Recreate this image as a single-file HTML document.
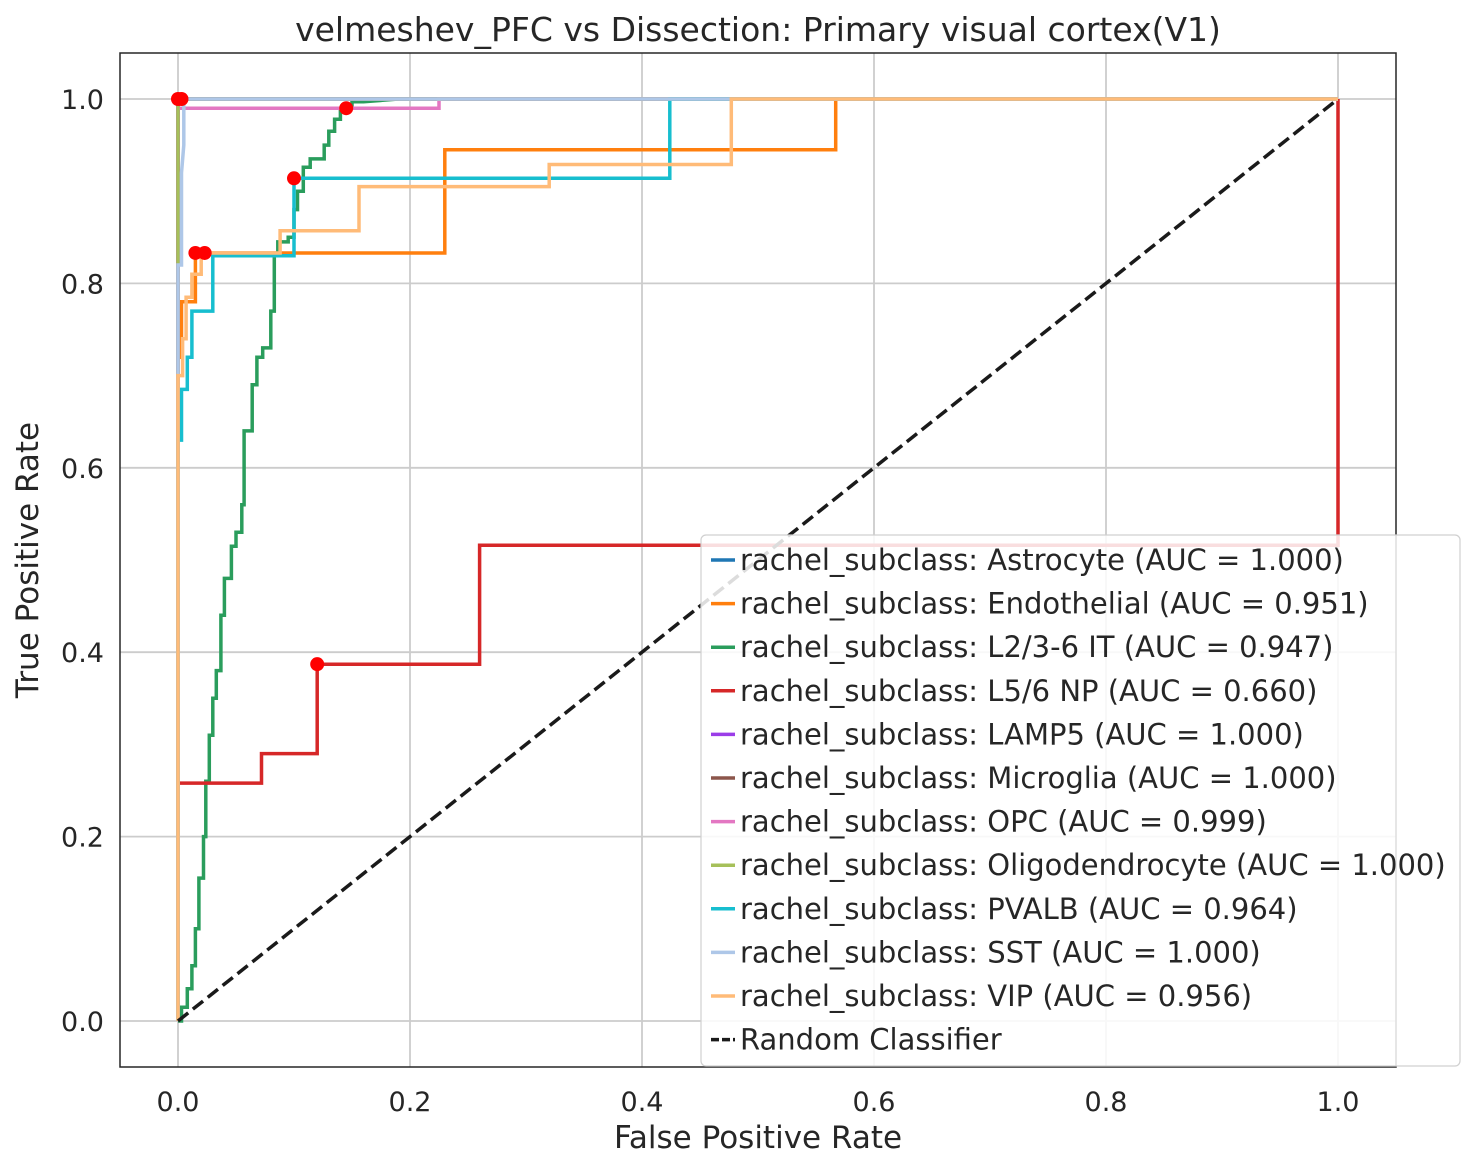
<!DOCTYPE html>
<html><head><meta charset="utf-8"><style>
html,body{margin:0;padding:0;background:#fff;}
svg text{font-family:"DejaVu Sans","Liberation Sans",sans-serif;fill:#262626;}
</style></head><body>
<svg id="chart" width="1475" height="1169" xmlns="http://www.w3.org/2000/svg">
<rect width="1475" height="1169" fill="#fff"/>
<g id="grid"></g>
<g id="curves"></g>
<g id="dots"></g>
<rect x="120" y="53" width="1276" height="1014" fill="none" stroke="#262626" stroke-width="1.5"/>
<g id="ticks"></g>
<text x="758" y="41" font-size="33" text-anchor="middle">velmeshev_PFC vs Dissection: Primary visual cortex(V1)</text>
<text x="758" y="1148" font-size="31" text-anchor="middle">False Positive Rate</text>
<text x="38" y="560" font-size="31" text-anchor="middle" transform="rotate(-90 38 560)">True Positive Rate</text>
<g id="legend"></g>
</svg>
<script>
const ticks=[0,0.2,0.4,0.6,0.8,1.0];
const tickLabels=["0.0","0.2","0.4","0.6","0.8","1.0"];
const seriesNames=["Astrocyte","Endothelial","L2/3-6 IT","L5/6 NP","LAMP5","Microglia","OPC","Oligodendrocyte","PVALB","SST","VIP"];
const aucValues=["1.000","0.951","0.947","0.660","1.000","1.000","0.999","1.000","0.964","1.000","0.956"];
const colors=["#1f77b4","#ff7f0e","#2a9d5c","#d62728","#9b3de8","#8c564b","#e377c2","#a6c05a","#17becf","#aec7e8","#ffbb78"];
const fprAstro=[0,0,1],tprAstro=[0,1,1];
const fprEndo=[0,0,0.003,0.003,0.015,0.015,0.23,0.23,0.567,0.567,1];
const tprEndo=[0,0.72,0.72,0.78,0.78,0.833,0.833,0.945,0.945,1,1];
const fprIT=[0,0.003,0.003,0.008,0.008,0.012,0.012,0.015,0.015,0.018,0.018,0.022,0.022,0.024,0.024,0.027,0.027,0.03,0.03,0.033,0.033,0.037,0.037,0.04,0.04,0.046,0.046,0.05,0.05,0.055,0.055,0.057,0.057,0.064,0.064,0.068,0.068,0.073,0.073,0.08,0.08,0.083,0.083,0.086,0.086,0.095,0.095,0.1,0.1,0.103,0.103,0.108,0.108,0.114,0.114,0.126,0.126,0.13,0.13,0.135,0.135,0.14,0.14,0.15,0.15,0.16,0.16,0.19,1];
const tprIT=[0,0,0.015,0.015,0.035,0.035,0.06,0.06,0.1,0.1,0.155,0.155,0.2,0.2,0.26,0.26,0.31,0.31,0.35,0.35,0.38,0.38,0.44,0.44,0.48,0.48,0.515,0.515,0.53,0.53,0.56,0.56,0.64,0.64,0.69,0.69,0.72,0.72,0.73,0.73,0.77,0.77,0.83,0.83,0.845,0.845,0.85,0.85,0.88,0.88,0.9,0.9,0.926,0.926,0.935,0.935,0.95,0.95,0.965,0.965,0.978,0.978,0.99,0.99,0.997,0.997,0.997,1];
const fprNP=[0,0,0.072,0.072,0.12,0.12,0.26,0.26,1,1];
const tprNP=[0,0.258,0.258,0.29,0.29,0.387,0.387,0.516,0.516,1];
const fprOPC=[0,0,0.005,0.225,0.225,1],tprOPC=[0,0.99,0.99,0.99,1,1];
const fprPV=[0,0,0.003,0.003,0.008,0.008,0.012,0.012,0.03,0.03,0.1,0.1,0.424,0.424,1];
const tprPV=[0,0.63,0.63,0.685,0.685,0.72,0.72,0.77,0.77,0.83,0.83,0.914,0.914,1,1];
const fprSST=[0,0,0.003,0.003,0.005,0.005,1],tprSST=[0,0.82,0.82,0.92,0.95,1,1];
const fprVIP=[0,0,0.004,0.004,0.007,0.007,0.012,0.012,0.02,0.02,0.088,0.088,0.156,0.156,0.32,0.32,0.477,0.477,1];
const tprVIP=[0,0.7,0.7,0.74,0.74,0.785,0.785,0.81,0.81,0.833,0.833,0.857,0.857,0.905,0.905,0.929,0.929,1,1];
const optFpr=[0,0.003,0.015,0.023,0.1,0.12,0.145];
const optTpr=[1,1,0.833,0.833,0.914,0.387,0.99];
const curves=[[fprAstro,tprAstro],[fprEndo,tprEndo],[fprIT,tprIT],[fprNP,tprNP],[fprAstro,tprAstro],[fprAstro,tprAstro],[fprOPC,tprOPC],[fprAstro,tprAstro],[fprPV,tprPV],[fprSST,tprSST],[fprVIP,tprVIP]];
const X=v=>178+v*1160, Y=v=>1021-v*922;
const NS="http://www.w3.org/2000/svg";
function mk(tag,attrs,parent){const e=document.createElementNS(NS,tag);for(const k in attrs)e.setAttribute(k,attrs[k]);parent.appendChild(e);return e;}
const g=document.getElementById('grid'),tk=document.getElementById('ticks');
ticks.forEach((t,i)=>{
 let l=mk('line',{x1:X(t),x2:X(t),y1:53,y2:1067,stroke:'#cccccc','stroke-width':1.8},g);
 
 
 l=mk('line',{x1:120,x2:1396,y1:Y(t),y2:Y(t),stroke:'#cccccc','stroke-width':1.8},g);
 
 
 let tx=mk('text',{x:X(t),y:1111,'font-size':27,'text-anchor':'middle'},tk);tx.textContent=tickLabels[i];
 
 
 tx=mk('text',{x:104,y:Y(t)+10,'font-size':27,'text-anchor':'end'},tk);tx.textContent=tickLabels[i];
 
 
});
const cg=document.getElementById('curves');
curves.forEach((c,i)=>{
 const pts=c[0].map((f,j)=>X(f).toFixed(1)+','+Y(c[1][j]).toFixed(1)).join(' ');
 const p=mk('polyline',{points:pts,fill:'none',stroke:colors[i],'stroke-width':3.5,'stroke-linejoin':'miter'},cg);
 
 
});
const diag=mk('line',{x1:X(0),y1:Y(0),x2:X(1),y2:Y(1),stroke:'#1a1a1a','stroke-width':3.5,'stroke-dasharray':'13,6'},cg);


const dg=document.getElementById('dots');
optFpr.forEach((f,i)=>{
 const c=mk('circle',{cx:X(f),cy:Y(optTpr[i]),r:7,fill:'#ff0000'},dg);
 
 
});
const lg=document.getElementById('legend');
const box=mk('rect',{x:701,y:535,width:759,height:531,rx:5,fill:'#fff','fill-opacity':0.85,stroke:'#d0d0d0','stroke-width':1.2},lg);


seriesNames.concat(['Random Classifier']).forEach((n,i)=>{
 const y=560+i*43.6;
 const isR=i===seriesNames.length;
 const ln=mk('line',{x1:711,x2:735,y1:y,y2:y,stroke:isR?'#1a1a1a':colors[i],'stroke-width':3.5,'stroke-dasharray':isR?'8,3':'none'},lg);
 
 
 const t=mk('text',{x:740,y:y+10,'font-size':29},lg);
 t.textContent=isR?'Random Classifier':'rachel_subclass: '+n+' (AUC = '+aucValues[i]+')';
 
 
});
</script>
</body></html>
